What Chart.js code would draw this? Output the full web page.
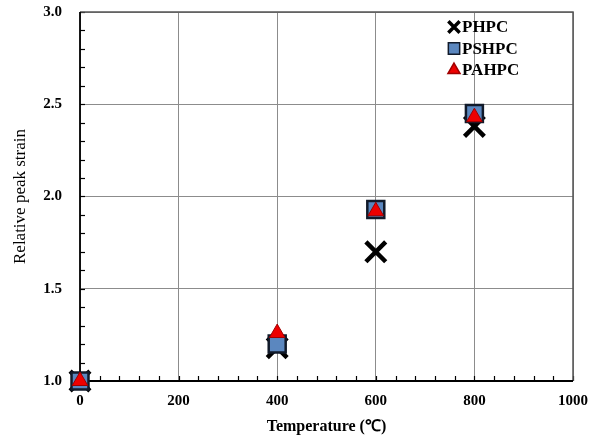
<!DOCTYPE html>
<html>
<head>
<meta charset="utf-8">
<script src="https://cdn.jsdelivr.net/npm/chart.js@4"></script>
<style>
  html, body { margin: 0; padding: 0; background: #fff; }
  #wrap { width: 605px; height: 436px; }
</style>
</head>
<body>
<div id="wrap"><canvas id="strainChart" width="605" height="436"></canvas></div>
<script>
// temperatures (°C) and relative peak strain
const temperatures = [0, 400, 600, 800];
const phpcValues = [1.00, 1.18, 1.70, 2.38];
const pshpcValues = [1.00, 1.20, 1.93, 2.45];
const pahpcValues = [1.00, 1.26, 1.92, 2.43];

const xTickLabels = [0, 200, 400, 600, 800, 1000];
const yTickLabels = [1.0, 1.5, 2.0, 2.5, 3.0];

const serif = "'Liberation Serif', 'Times New Roman', serif";

const seriesConfig = [
  { label: 'PHPC', values: phpcValues, style: 'crossRot', radius: 14, fill: '#000', border: '#000', width: 4.5, legendRadius: 8, order: 3 },
  { label: 'PSHPC', values: pshpcValues, style: 'rect', radius: 12, fill: '#5b87bf', border: '#111a2a', width: 2.5, legendRadius: 8, order: 2 },
  { label: 'PAHPC', values: pahpcValues, style: 'triangle', radius: 9, fill: '#ee0000', border: '#a00000', width: 1, legendRadius: 7, order: 1 }
];

const datasets = seriesConfig.map(cfg => ({
  label: cfg.label,
  data: temperatures.map((t, i) => ({ x: t, y: cfg.values[i] })),
  pointStyle: cfg.style,
  pointRadius: cfg.radius,
  pointHoverRadius: cfg.radius,
  backgroundColor: cfg.fill,
  borderColor: cfg.border,
  pointBorderWidth: cfg.width,
  showLine: false,
  clip: false,
  order: cfg.order
}));

// graduations vers l'intérieur, cadre et légende dans le graphique
const frameTicks = {
  id: 'frameTicks',
  beforeDatasetsDraw(chart) {
    const { ctx, chartArea: a, scales } = chart;
    ctx.save();
    ctx.strokeStyle = '#000';
    ctx.lineWidth = 1.2;
    for (let v = 1.0; v <= 3.0001; v += 0.1) {
      const y = Math.round(scales.y.getPixelForValue(v)) + 0.5;
      ctx.beginPath();
      ctx.moveTo(a.left, y);
      ctx.lineTo(a.left + 5, y);
      ctx.stroke();
    }
    for (let v = 0; v <= 1000; v += 40) {
      const x = Math.round(scales.x.getPixelForValue(v)) + 0.5;
      ctx.beginPath();
      ctx.moveTo(x, a.bottom);
      ctx.lineTo(x, a.bottom - 5);
      ctx.stroke();
    }
    // cadre haut/droite gris, axes gauche/bas noirs
    ctx.strokeStyle = '#555';
    ctx.lineWidth = 1.5;
    ctx.beginPath();
    ctx.moveTo(a.left, a.top);
    ctx.lineTo(a.right, a.top);
    ctx.lineTo(a.right, a.bottom);
    ctx.stroke();
    ctx.strokeStyle = '#000';
    ctx.lineWidth = 1.8;
    ctx.beginPath();
    ctx.moveTo(a.left, a.top);
    ctx.lineTo(a.left, a.bottom);
    ctx.lineTo(a.right, a.bottom);
    ctx.stroke();
    ctx.restore();
  },
  afterDraw(chart) {
    const { ctx, chartArea: a } = chart;
    ctx.save();
    ctx.font = "bold 17px " + serif;
    ctx.textBaseline = 'middle';
    seriesConfig.forEach((cfg, i) => {
      const cx = a.right - 119;
      const cy = a.top + 15 + i * 21.5;
      ctx.fillStyle = cfg.fill;
      ctx.strokeStyle = cfg.border;
      ctx.lineWidth = cfg.style === 'crossRot' ? 3.5 : 1.5;
      Chart.helpers.drawPoint(ctx, { pointStyle: cfg.style, radius: cfg.legendRadius, borderWidth: ctx.lineWidth }, cx, cy);
      ctx.fillStyle = '#000';
      ctx.fillText(cfg.label, cx + 8, cy + 1);
    });
    ctx.restore();
  }
};

const ctx = document.getElementById('strainChart').getContext('2d');
new Chart(ctx, {
  type: 'scatter',
  data: { datasets: datasets },
  options: {
    responsive: false,
    animation: false,
    events: [],
    layout: { autoPadding: false, padding: { top: 12, right: 32, left: 0, bottom: 0 } },
    plugins: {
      legend: { display: false },
      tooltip: { enabled: false }
    },
    scales: {
      x: {
        type: 'linear',
        min: 0,
        max: 1000,
        afterBuildTicks: scale => { scale.ticks = xTickLabels.map(v => ({ value: v })); },
        afterFit: scale => {
          scale.height = 55;
          scale.paddingLeft = 0;
          scale.paddingRight = 0;
        },
        grid: { color: '#8c8c8c', lineWidth: 1, drawTicks: false },
        border: { display: false },
        ticks: {
          padding: 11,
          color: '#000',
          font: { family: serif, size: 15, weight: 'bold' },
          callback: v => String(v)
        },
        title: {
          display: true,
          text: 'Temperature (℃)',
          color: '#000',
          padding: { top: 4, bottom: 0 },
          font: { family: serif, size: 16, weight: 'bold' }
        }
      },
      y: {
        type: 'linear',
        min: 1.0,
        max: 3.0,
        afterBuildTicks: scale => { scale.ticks = yTickLabels.map(v => ({ value: v })); },
        afterFit: scale => {
          scale.width = 80;
          scale.paddingTop = 0;
          scale.paddingBottom = 0;
        },
        grid: { color: '#8c8c8c', lineWidth: 1, drawTicks: false },
        border: { display: false },
        ticks: {
          padding: 18,
          color: '#000',
          font: { family: serif, size: 15, weight: 'bold' },
          callback: v => v.toFixed(1)
        },
        title: {
          display: true,
          text: 'Relative peak strain',
          color: '#000',
          padding: { top: 10, bottom: 0 },
          font: { family: serif, size: 17 }
        }
      }
    }
  },
  plugins: [frameTicks]
});
</script>
</body>
</html>
